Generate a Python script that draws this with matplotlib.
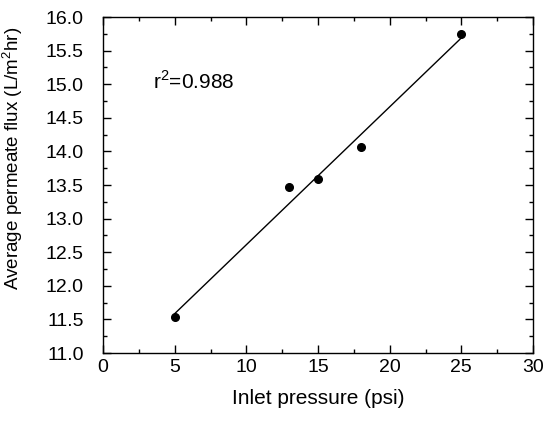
import numpy as np
import matplotlib.pyplot as plt
from matplotlib.ticker import MultipleLocator

# values
pressure = [5, 13, 15, 18, 25]
flux = [11.53, 13.47, 13.59, 14.06, 15.74]
r2_label = "r$^2$=0.988"

plt.rcParams["font.family"] = ["Liberation Sans", "DejaVu Sans"]
plt.rcParams["mathtext.fontset"] = "custom"
plt.rcParams["mathtext.rm"] = "Liberation Sans"

fig = plt.figure(figsize=(5.46, 4.25), dpi=100)
ax = fig.add_axes([103 / 546, 1 - 353 / 425, 430 / 546, 336 / 425])

slope, intercept = np.polyfit(pressure, flux, 1)
fit_x = np.array([min(pressure), max(pressure)])
ax.plot(fit_x, slope * fit_x + intercept, color="black", lw=1)
ax.plot(pressure, flux, "o", color="black", ms=5.5)

ax.text(3.5, 15.04, r2_label, fontsize=15, va="center")

ax.set_xlim(0, 30)
ax.set_ylim(11, 16)
ax.xaxis.set_major_locator(MultipleLocator(5))
ax.xaxis.set_minor_locator(MultipleLocator(2.5))
ax.yaxis.set_major_locator(MultipleLocator(0.5))
ax.yaxis.set_minor_locator(MultipleLocator(0.25))
ax.yaxis.set_major_formatter(plt.FormatStrFormatter("%.1f"))
ax.tick_params(which="both", direction="in", top=True, right=True, labelsize=14, width=1)
ax.tick_params(which="major", length=6)
ax.tick_params(which="minor", length=3)
ax.tick_params(axis="x", which="major", pad=4)
ax.tick_params(axis="y", which="major", pad=14)
for s in ax.spines.values():
    s.set_linewidth(1)

ax.set_xlabel("Inlet pressure (psi)", fontsize=15, labelpad=10)
ax.set_ylabel("Average permeate flux (L/m$^2$hr)", fontsize=13.5)
ax.yaxis.set_label_coords(-0.182, 0.58)

fig.savefig("out.png", dpi=100)
